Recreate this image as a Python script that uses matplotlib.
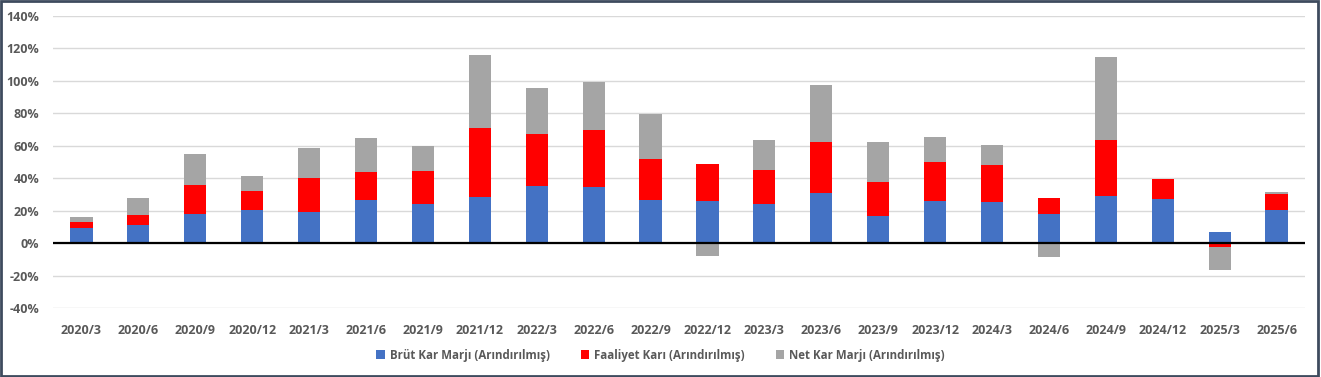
import numpy as np
import matplotlib.pyplot as plt
from matplotlib.patches import Rectangle
from matplotlib.ticker import FuncFormatter

plt.rcParams['font.family'] = ['Open Sans', 'DejaVu Sans']

periods = ['2020/3', '2020/6', '2020/9', '2020/12', '2021/3', '2021/6', '2021/9', '2021/12',
           '2022/3', '2022/6', '2022/9', '2022/12', '2023/3', '2023/6', '2023/9', '2023/12',
           '2024/3', '2024/6', '2024/9', '2024/12', '2025/3', '2025/6']
brut = [9.2, 11.1, 18.3, 20.3, 19.1, 26.9, 24.2, 28.5, 35.3, 34.5, 26.5, 25.8,
        24.0, 31.0, 17.0, 26.3, 25.4, 18.3, 28.9, 27.3, 6.8, 20.3]
faaliyet = [3.9, 6.1, 17.4, 11.9, 20.9, 17.0, 20.1, 42.3, 31.8, 35.0, 25.6, 23.2,
            20.9, 31.0, 21.0, 23.5, 22.6, 9.4, 34.5, 12.5, -2.3, 10.0]
net = [3.1, 10.5, 19.5, 9.0, 18.5, 20.9, 15.4, 44.9, 28.5, 30.0, 27.7, -7.6,
       18.5, 35.2, 24.2, 15.6, 12.7, -8.6, 51.1, 0.0, -14.3, 1.1]
series_names = ['Brüt Kar Marjı (Arındırılmış)', 'Faaliyet Karı (Arındırılmış)',
                'Net Kar Marjı (Arındırılmış)']
colors = ['#4472C4', '#FF0000', '#A5A5A5']

W, H = 1321, 377
fig = plt.figure(figsize=(W / 100, H / 100), dpi=100)
ax = fig.add_axes([53 / W, 1 - 308.3 / H, (1305 - 53) / W, (308.3 - 15.7) / H])

x = np.arange(len(periods))
pos_bottom = np.zeros(len(periods))
neg_bottom = np.zeros(len(periods))
# excel-style stacking: positives go up from 0, negatives go down from 0
for vals, name, c in zip([brut, faaliyet, net], series_names, colors):
    v = np.array(vals)
    bottom = np.where(v >= 0, pos_bottom, neg_bottom)
    ax.bar(x, v, 0.39, bottom=bottom, color=c, label=name, zorder=3)
    pos_bottom += np.where(v >= 0, v, 0)
    neg_bottom += np.where(v < 0, v, 0)

ax.set_xlim(-0.5, len(periods) - 0.5)
ax.set_ylim(-40, 140)
ax.set_yticks(np.arange(-40, 141, 20))
ax.yaxis.set_major_formatter(FuncFormatter(lambda v, p: f'{v:.0f}%'))
ax.set_xticks(x)
ax.set_xticklabels(periods)
ax.grid(axis='y', color='#D9D9D9', linewidth=1, zorder=0)
ax.axhline(0, color='black', linewidth=1.6, zorder=4)
for s in ax.spines.values():
    s.set_visible(False)
ax.tick_params(length=0, labelsize=9, labelcolor='#595959')
ax.tick_params(axis='y', pad=10)
ax.tick_params(axis='x', pad=11)
for lab in ax.get_xticklabels() + ax.get_yticklabels():
    lab.set_fontweight('bold')

leg = fig.legend(loc='center', bbox_to_anchor=(0.5, 1 - 355 / H), ncol=3, frameon=False,
                 prop={'size': 8.3, 'weight': 'bold'}, handlelength=0.75, handleheight=0.75,
                 columnspacing=2.7, handletextpad=0.4)
for t in leg.get_texts():
    t.set_color('#595959')

fig.patches.append(Rectangle((0.001, 0.002), 0.997, 0.995, transform=fig.transFigure,
                             fill=False, edgecolor='#3E4B5E', linewidth=2))

fig.savefig('out.png', dpi=100)
